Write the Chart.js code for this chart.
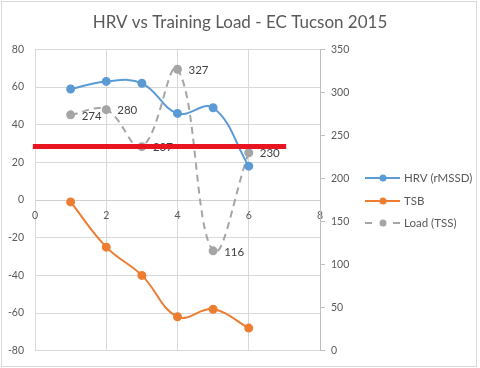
<!DOCTYPE html>
<html>
<head>
<meta charset="utf-8">
<script src="https://cdn.jsdelivr.net/npm/chart.js@4.4.1/dist/chart.umd.min.js"></script>
<style>
  html, body { margin: 0; padding: 0; background: #fff; }
</style>
</head>
<body>
<canvas id="chart" width="480" height="368"></canvas>
<script>
// data
var days = [1, 2, 3, 4, 5, 6];
var hrv = [59, 63, 62, 46, 49, 18];
var tsb = [-1, -25, -40, -62, -58, -68];
var load = [274, 280, 237, 327, 116, 230];
var seriesNames = ["HRV (rMSSD)", "TSB", "Load (TSS)"];
var colors = ["#5B9BD5", "#ED7D31", "#A5A5A5"];
// red marker line drawn across the chart
var markLevel = [28.5, 28.5];
var markSpan = [-0.06, 7.05];

function pairs(xs, ys) {
	return xs.map(function(x, i){ return {x: x, y: ys[i]}; });
}

Chart.defaults.font.family = 'Lato';
Chart.defaults.color = '#595959';

var frame = {
	id: 'frame',
	beforeDraw: function(chart){
		var ctx = chart.ctx;
		ctx.save();
		ctx.fillStyle = '#fff';
		ctx.fillRect(0, 0, chart.width, chart.height);
		ctx.strokeStyle = '#d9d9d9';
		ctx.lineWidth = 1;
		ctx.strokeRect(1.5, 1.5, 475, 365);
		ctx.restore();
	}
};

var loadLabels = {
	id: 'loadLabels',
	afterDatasetDraw: function(chart, args){
		if (args.index !== 2) return;
		var ctx = chart.ctx;
		ctx.save();
		ctx.font = '11.5px Lato';
		ctx.fillStyle = '#404040';
		ctx.textAlign = 'left';
		ctx.textBaseline = 'middle';
		args.meta.data.forEach(function(p, i){
			ctx.fillText(load[i], p.x + 11, p.y + 1);
		});
		ctx.restore();
	}
};

var sideLegend = {
	id: 'sideLegend',
	afterDraw: function(chart){
		var ctx = chart.ctx;
		var rows = [178, 201, 223];
		ctx.save();
		ctx.font = '11.5px Lato';
		ctx.textBaseline = 'middle';
		ctx.fillStyle = '#595959';
		seriesNames.forEach(function(name, i){
			var y = rows[i];
			ctx.strokeStyle = colors[i];
			ctx.lineWidth = 2;
			ctx.beginPath();
			if (i === 2) {
				ctx.moveTo(365, y); ctx.lineTo(372, y);
				ctx.moveTo(393, y); ctx.lineTo(400, y);
			} else {
				ctx.moveTo(365, y); ctx.lineTo(400, y);
			}
			ctx.stroke();
			ctx.fillStyle = colors[i];
			ctx.beginPath();
			ctx.arc(383, y, 3.5, 0, Math.PI * 2);
			ctx.fill();
			ctx.fillStyle = '#595959';
			ctx.fillText(name, 404, y);
		});
		ctx.restore();
	}
};

new Chart(document.getElementById('chart'), {
	type: 'line',
	data: {
		datasets: [{
			label: seriesNames[0],
			data: pairs(days, hrv),
			borderColor: colors[0],
			backgroundColor: colors[0],
			borderWidth: 2,
			pointRadius: 3.5,
			tension: 0.4,
			yAxisID: 'y'
		}, {
			label: seriesNames[1],
			data: pairs(days, tsb),
			borderColor: colors[1],
			backgroundColor: colors[1],
			borderWidth: 2,
			pointRadius: 3.5,
			tension: 0.4,
			yAxisID: 'y'
		}, {
			label: seriesNames[2],
			data: pairs(days, load),
			borderColor: colors[2],
			backgroundColor: colors[2],
			borderWidth: 2,
			borderDash: [7, 5],
			pointRadius: 3.5,
			tension: 0.4,
			yAxisID: 'y1'
		}, {
			label: '',
			data: pairs(markSpan, markLevel),
			borderColor: '#E8141F',
			borderWidth: 5,
			borderCapStyle: 'butt',
			pointRadius: 0,
			tension: 0,
			clip: false,
			order: -1,
			yAxisID: 'y'
		}]
	},
	options: {
		responsive: false,
		animation: false,
		layout: { padding: { left: 0, right: 0, top: 0, bottom: 15 } },
		plugins: {
			legend: { display: false },
			tooltip: { enabled: false },
			title: {
				display: true,
				text: 'HRV vs Training Load - EC Tucson 2015',
				color: '#595959',
				font: { family: 'Lato', size: 17, weight: 'normal' },
				padding: { top: 12, bottom: 17 }
			}
		},
		scales: {
			x: {
				type: 'linear',
				min: 0,
				max: 8,
				position: { y: 0 },
				ticks: { stepSize: 2, padding: 9, font: { size: 10.5 } },
				grid: { color: '#d9d9d9', drawTicks: false },
				border: { color: '#d0d0d0' },
				afterFit: function(s){ s.height = 0; }
			},
			y: {
				min: -80,
				max: 80,
				ticks: { stepSize: 20, padding: 11, font: { size: 10.5 } },
				grid: { color: '#d9d9d9', drawTicks: false },
				border: { display: false },
				afterFit: function(s){ s.width = 35; }
			},
			y1: {
				position: 'right',
				min: 0,
				max: 350,
				ticks: { stepSize: 50, padding: 6, font: { size: 10.5 } },
				grid: { drawOnChartArea: false, color: '#bfbfbf', tickLength: 5 },
				border: { color: '#bfbfbf' },
				afterFit: function(s){ s.width = 160; }
			}
		}
	},
	plugins: [frame, loadLabels, sideLegend]
});
</script>
</body>
</html>
